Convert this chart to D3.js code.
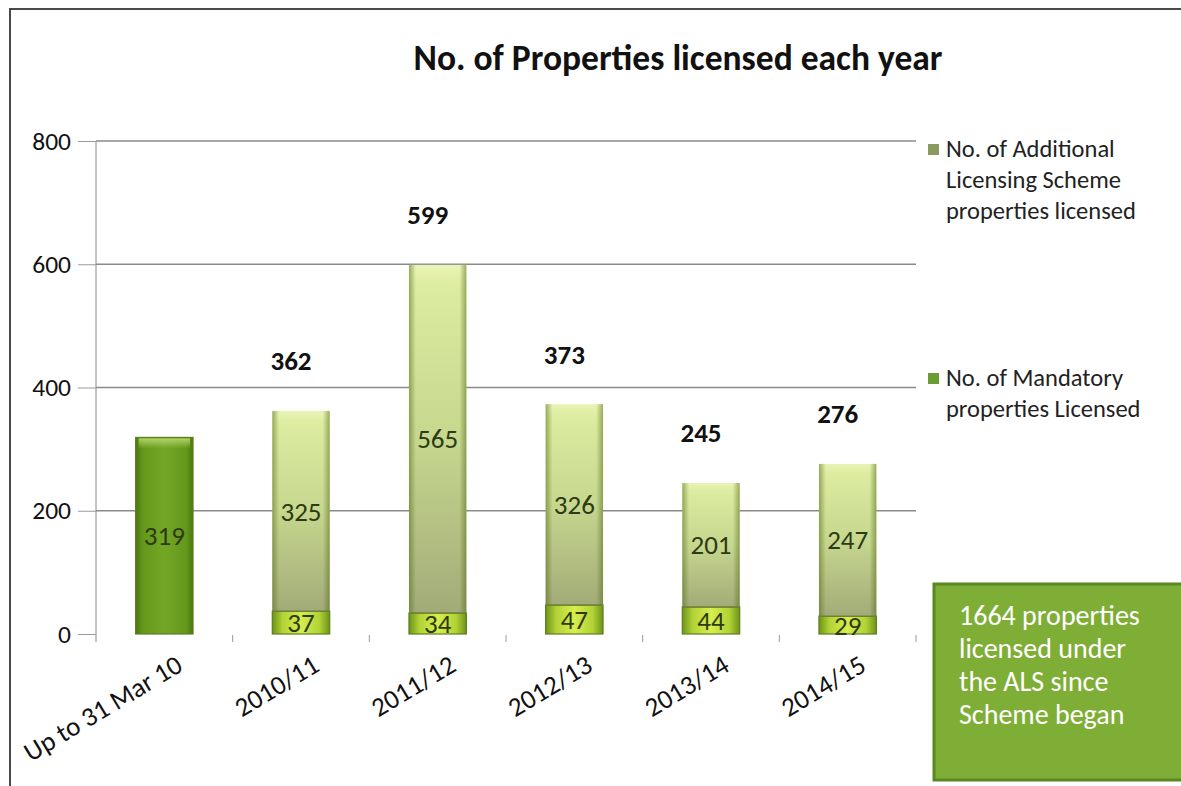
<!DOCTYPE html>
<html>
<head>
<meta charset="utf-8">
<script src="https://cdn.jsdelivr.net/npm/d3@7"></script>
<style>
  body { margin: 0; background: #fff; }
  svg { display: block; font-family: Carlito, Lato, sans-serif; }
</style>
</head>
<body>
<svg id="chart" width="1181" height="786"></svg>
<script>
'use strict';

// Values.
const categories = ['Up to 31 Mar 10', '2010/11', '2011/12', '2012/13', '2013/14', '2014/15'];
const mandatory = [319, 37, 34, 47, 44, 29];
const additional = [0, 325, 565, 326, 201, 247];
const yTicks = [0, 200, 400, 600, 800];
const legendAdditional = ['No. of Additional', 'Licensing Scheme', 'properties licensed'];
const legendMandatory = ['No. of Mandatory', 'properties Licensed'];
const noteLines = ['1664 properties', 'licensed under', 'the ALS since', 'Scheme began'];

const svg = d3.select('#chart');
const margin = { top: 141, left: 96, right: 916, bottom: 634 };

const rows = categories.map((c, i) => ({
  label: c,
  mandatory: mandatory[i],
  additional: additional[i],
  total: mandatory[i] + additional[i]
}));

const x = d3.scaleBand()
  .domain(categories)
  .range([margin.left, margin.right])
  .paddingInner(0.58)
  .paddingOuter(0.29);

const y = d3.scaleLinear()
  .domain([0, 800])
  .range([margin.bottom, margin.top]);

// Gradients to get something close to the bevelled Excel bars.
const defs = svg.append('defs');
const grad = (id, vertical, stops) => {
  const g = defs.append('linearGradient').attr('id', id)
    .attr('x1', 0).attr('y1', 0)
    .attr('x2', vertical ? 0 : 1).attr('y2', vertical ? 1 : 0);
  stops.forEach(([o, c, a]) => g.append('stop').attr('offset', o)
    .attr('stop-color', c).attr('stop-opacity', a === undefined ? 1 : a));
};
grad('addFill', true, [[0, '#e8f4b6'], [0.06, '#dceca0'], [0.5, '#c6d78e'], [1, '#a2ab78']]);
grad('edge', false, [[0, '#4d6410', 0.5], [0.12, '#4d6410', 0], [0.88, '#4d6410', 0], [1, '#4d6410', 0.5]]);
grad('mandTall', false, [[0, '#4a7810'], [0.12, '#64981b'], [0.5, '#74a626'], [0.88, '#64981b'], [1, '#4a7810']]);
grad('mandShort', false, [[0, '#6d9418'], [0.18, '#b2d235'], [0.5, '#d6ee4e'], [0.82, '#b2d235'], [1, '#6d9418']]);
grad('topShine', true, [[0, '#b8d870', 0.9], [1, '#b8d870', 0]]);

// Frame of the chart area.
svg.append('path')
  .attr('d', 'M10,786V9H1181')
  .attr('fill', 'none')
  .attr('stroke', '#4a4a4a')
  .attr('stroke-width', 2);

// Title
svg.append('text')
  .attr('x', 678)
  .attr('y', 70)
  .attr('text-anchor', 'middle')
  .attr('font-size', 35.5)
  .attr('font-weight', 'bold')
  .attr('fill', '#111')
  .text('No. of Properties licensed each year');

// Gridlines
svg.append('g')
  .selectAll('line')
  .data(yTicks.filter(t => t > 0))
  .join('line')
  .attr('x1', margin.left)
  .attr('x2', margin.right)
  .attr('y1', d => y(d))
  .attr('y2', d => y(d))
  .attr('stroke', '#8a8a8a')
  .attr('stroke-width', 1.3);

// Y axis
const yAxis = svg.append('g')
  .attr('transform', `translate(${margin.left},0)`)
  .call(d3.axisLeft(y).tickValues(yTicks).tickSize(18).tickSizeOuter(0).tickPadding(7));
yAxis.select('.domain').attr('stroke', '#8a8a8a').attr('d', `M0,${y(800)}V${y(0) + 8}`);
yAxis.selectAll('.tick line').attr('stroke', '#9a9a9a');
yAxis.selectAll('.tick text')
  .attr('font-size', 25.5)
  .attr('font-family', 'Carlito, Lato, sans-serif')
  .attr('fill', '#111');

// Category boundary ticks under the plot
const step = x.step();
svg.append('g')
  .selectAll('line')
  .data(categories)
  .join('line')
  .attr('x1', d => x(d) + x.bandwidth() / 2 + step / 2)
  .attr('x2', d => x(d) + x.bandwidth() / 2 + step / 2)
  .attr('y1', y(0) + 1)
  .attr('y2', y(0) + 8)
  .attr('stroke', '#9a9a9a');

// X labels, rotated
svg.append('g')
  .selectAll('text')
  .data(categories)
  .join('text')
  .attr('transform', d => `translate(${x(d) + x.bandwidth() / 2 + 20},${y(0) + 36}) rotate(-31)`)
  .attr('text-anchor', 'end')
  .attr('font-size', 27)
  .attr('fill', '#111')
  .text(d => d);

// Bars
const bars = svg.append('g')
  .selectAll('g.bar')
  .data(rows)
  .join('g')
  .classed('bar', true);

const mandH = d => y(0) - y(d.mandatory);
bars.append('rect')
  .attr('x', d => x(d.label))
  .attr('y', d => y(d.mandatory))
  .attr('width', x.bandwidth())
  .attr('height', mandH)
  .attr('fill', d => mandH(d) > 60 ? 'url(#mandTall)' : 'url(#mandShort)')
  .attr('stroke', '#5d7f1e')
  .attr('stroke-width', 1.2);
bars.filter(d => mandH(d) > 60).append('rect')
  .attr('x', d => x(d.label) + 3)
  .attr('y', d => y(d.mandatory) + 1)
  .attr('width', x.bandwidth() - 6)
  .attr('height', 10)
  .attr('fill', 'url(#topShine)');

const addRows = rows.filter(d => d.additional > 0);
const addBars = svg.append('g')
  .selectAll('g')
  .data(addRows)
  .join('g');
addBars.append('rect')
  .attr('x', d => x(d.label))
  .attr('y', d => y(d.total))
  .attr('width', x.bandwidth())
  .attr('height', d => y(d.mandatory) - y(d.total))
  .attr('fill', 'url(#addFill)');
addBars.append('rect')
  .attr('x', d => x(d.label))
  .attr('y', d => y(d.total))
  .attr('width', x.bandwidth())
  .attr('height', d => y(d.mandatory) - y(d.total))
  .attr('fill', 'url(#edge)');
addBars.append('line')
  .attr('x1', d => x(d.label))
  .attr('x2', d => x(d.label) + x.bandwidth())
  .attr('y1', d => y(d.mandatory))
  .attr('y2', d => y(d.mandatory))
  .attr('stroke', '#6f7f38')
  .attr('stroke-width', 1.5);

// Segment labels
svg.append('g')
  .selectAll('text')
  .data(rows)
  .join('text')
  .attr('x', d => x(d.label) + x.bandwidth() / 2)
  .attr('y', d => (y(0) + y(d.mandatory)) / 2)
  .attr('dy', '0.35em')
  .attr('text-anchor', 'middle')
  .attr('font-size', 27)
  .attr('fill', '#2e3a14')
  .text(d => d.mandatory);

svg.append('g')
  .selectAll('text')
  .data(addRows)
  .join('text')
  .attr('x', d => x(d.label) + x.bandwidth() / 2)
  .attr('y', d => (y(d.mandatory) + y(d.total)) / 2)
  .attr('dy', '0.35em')
  .attr('text-anchor', 'middle')
  .attr('font-size', 27)
  .attr('fill', '#2e3a14')
  .text(d => d.additional);

// Totals above the stacks
svg.append('g')
  .selectAll('text')
  .data(addRows)
  .join('text')
  .attr('x', d => x(d.label) + x.bandwidth() / 2 - 10)
  .attr('y', d => y(d.total) - 50)
  .attr('dy', '0.35em')
  .attr('text-anchor', 'middle')
  .attr('font-size', 27)
  .attr('font-weight', 'bold')
  .attr('fill', '#111')
  .text(d => d.total);

// Legend
const legend = svg.append('g').attr('font-size', 24.5).attr('fill', '#222');
const legendItem = (lines, top, color) => {
  legend.append('rect')
    .attr('x', 928).attr('y', top - 13)
    .attr('width', 11).attr('height', 11)
    .attr('fill', color);
  legend.append('text')
    .attr('x', 946)
    .attr('y', top)
    .selectAll('tspan')
    .data(lines)
    .join('tspan')
    .attr('x', 946)
    .attr('dy', (d, i) => i === 0 ? 0 : 31)
    .text(d => d);
};
legendItem(legendAdditional, 157, '#8b9a5e');
legendItem(legendMandatory, 386, '#6c9c34');

// Note box
svg.append('rect')
  .attr('x', 934).attr('y', 584)
  .attr('width', 260).attr('height', 196)
  .attr('fill', '#7fae36')
  .attr('stroke', '#5b8722')
  .attr('stroke-width', 3);
svg.append('text')
  .attr('font-size', 28)
  .attr('fill', '#fff')
  .selectAll('tspan')
  .data(noteLines)
  .join('tspan')
  .attr('x', 959)
  .attr('y', (d, i) => 625 + i * 33)
  .text(d => d);
</script>
</body>
</html>
